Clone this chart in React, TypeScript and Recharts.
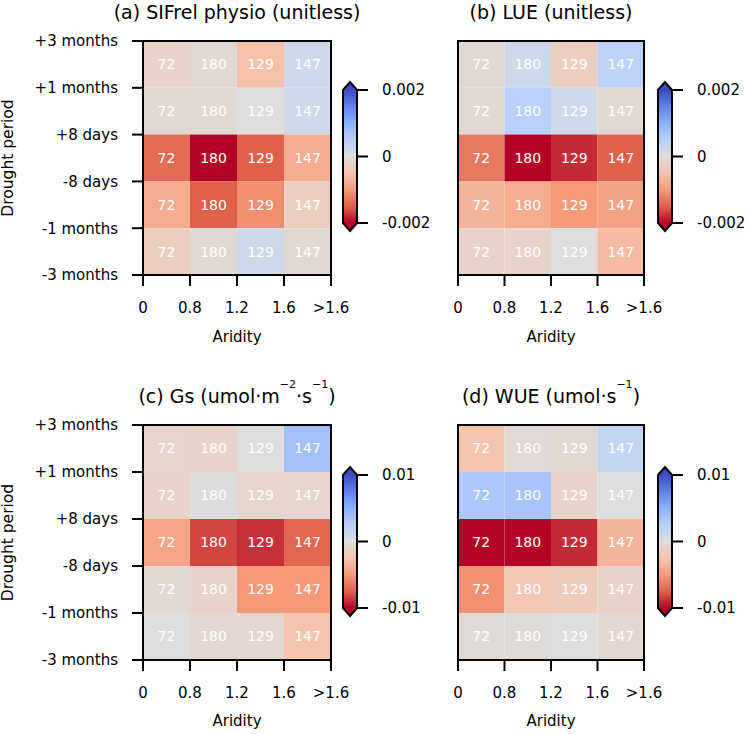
import React from "react";
import { ScatterChart, Scatter, XAxis, YAxis, ReferenceArea } from "recharts";

const FONT = "'DejaVu Sans', Arial, sans-serif";

const aridityTicks = ["0", "0.8", "1.2", "1.6", ">1.6"];
const periodTicks = ["-3 months", "-1 months", "-8 days", "+8 days", "+1 months", "+3 months"];
const gridCounts = [72, 180, 129, 147];

// rows top to bottom: +3..+1 months, +1 months..+8 days, +8..-8 days, -8 days..-1 months, -1..-3 months
const sifrelPhysio = [
  [-0.0002, -0.0001, -0.00055, 0.0002],
  [-0.0001, -0.0001, 0.0, 0.0002],
  [-0.0014, -0.0023, -0.0015, -0.0008],
  [-0.0008, -0.0015, -0.0011, -0.0003],
  [-0.0003, -0.0001, 0.0002, -0.0001],
];
const lue = [
  [-0.0001, 0.0002, -0.0003, 0.00045],
  [-0.0001, 0.0005, 0.0002, -0.0001],
  [-0.0013, -0.0022, -0.0018, -0.0015],
  [-0.0007, -0.0008, -0.001, -0.0009],
  [-0.0002, -0.0002, 0.0, -0.0006],
];
const gs = [
  [-0.0008, -0.001, 0.0, 0.0038],
  [-0.001, 0.0001, -0.0008, -0.0008],
  [-0.0044, -0.0082, -0.0088, -0.0072],
  [-0.0005, -0.001, -0.005, -0.005],
  [0.0, -0.0006, -0.0006, -0.0025],
];
const wue = [
  [-0.0025, -0.0004, -0.0005, 0.0018],
  [0.0032, 0.0034, -0.001, 0.0],
  [-0.011, -0.011, -0.009, -0.0035],
  [-0.0054, -0.0022, -0.0018, -0.001],
  [-0.0003, -0.0003, 0.0, -0.0007],
];

const cbTicksSmall = ["-0.002", "0", "0.002"];
const cbTicksLarge = ["-0.01", "0", "0.01"];

// matplotlib coolwarm, blue -> grey -> red
const coolwarm = [
  [59, 76, 192],
  [98, 130, 234],
  [141, 176, 254],
  [184, 208, 249],
  [221, 221, 221],
  [245, 196, 173],
  [244, 154, 123],
  [222, 96, 77],
  [180, 4, 38],
];

function cw(s: number) {
  const t = Math.min(1, Math.max(0, s)) * (coolwarm.length - 1);
  const i = Math.min(coolwarm.length - 2, Math.floor(t));
  const f = t - i;
  const a = coolwarm[i];
  const b = coolwarm[i + 1];
  const c = a.map((v, k) => Math.round(v + (b[k] - v) * f));
  return `rgb(${c[0]},${c[1]},${c[2]})`;
}

// reversed map: negative values red, positive blue
const valueColor = (v: number, vmax: number) => cw(0.5 - v / (2 * vmax));

const tickStyle = { fill: "#000", fontSize: 15, fontFamily: FONT };
const lineStyle = { stroke: "#000", strokeWidth: 2 };

function Heatmap({ left, top, height, axisH, marginTop, rightMargin, yWidth, values, vmax, title, showPeriods }: any) {
  const cells = values.flatMap((row: number[], r: number) =>
    row.map((v, c) => ({ x: c + 0.5, y: 4.5 - r, v, n: gridCounts[c], c, r }))
  );
  return (
    <div style={{ position: "absolute", left, top }}>
      <ScatterChart width={375} height={height} margin={{ top: marginTop, right: rightMargin, bottom: 0, left: 0 }}>
        <XAxis
          type="number"
          dataKey="x"
          domain={[0, 4]}
          ticks={[0, 1, 2, 3, 4]}
          interval={0}
          tickFormatter={(t: number) => aridityTicks[t]}
          height={axisH}
          tickSize={11}
          tickMargin={16}
          tick={tickStyle}
          tickLine={lineStyle}
          axisLine={lineStyle}
          label={{ value: "Aridity", position: "insideBottom", offset: 8, fill: "#000", fontSize: 15, fontFamily: FONT }}
        />
        <YAxis
          type="number"
          dataKey="y"
          domain={[0, 5]}
          ticks={[0, 1, 2, 3, 4, 5]}
          interval={0}
          tickFormatter={(t: number) => periodTicks[t]}
          width={yWidth}
          tickSize={11}
          tickMargin={14}
          tick={showPeriods ? tickStyle : false}
          tickLine={showPeriods ? lineStyle : false}
          axisLine={lineStyle}
          label={
            showPeriods
              ? (p: any) => {
                  const vb = p.viewBox;
                  const cx = vb.x + 13;
                  const cy = vb.y + vb.height / 2;
                  return (
                    <text x={cx} y={cy} transform={`rotate(-90, ${cx}, ${cy})`} textAnchor="middle" fill="#000" fontSize={15.5} fontFamily={FONT}>
                      Drought period
                    </text>
                  );
                }
              : undefined
          }
        />
        {cells.map((cell: any) => (
          <ReferenceArea
            key={`${cell.r}-${cell.c}`}
            x1={cell.c}
            x2={cell.c + 1}
            y1={4 - cell.r}
            y2={5 - cell.r}
            fill={valueColor(cell.v, vmax)}
            fillOpacity={1}
            stroke="none"
            label={{ value: String(cell.n), position: "center", fill: "#fff", fontSize: 14, fontFamily: FONT }}
          />
        ))}
        <ReferenceArea
          x1={0}
          x2={4}
          y1={0}
          y2={5}
          fill="none"
          stroke="#000"
          strokeWidth={2}
          label={(p: any) => {
            const vb = p.viewBox;
            return (
              <text x={vb.x + vb.width / 2} y={vb.y - 22} textAnchor="middle" fill="#000" fontSize={19} fontFamily={FONT}>
                {title}
              </text>
            );
          }}
        />
        <Scatter data={cells} dataKey="y" shape={() => <g />} isAnimationActive={false} />
      </ScatterChart>
    </div>
  );
}

function ColorBar({ left, top, vmax, labels, id }: any) {
  const shape = (p: any) => {
    const { x, y, width, height } = p;
    const tip = 8;
    const mid = x + width / 2;
    const outline = `M${x},${y} L${mid},${y - tip} L${x + width},${y} L${x + width},${y + height} L${mid},${y + height + tip} L${x},${y + height} Z`;
    return (
      <g>
        <defs>
          <linearGradient id={id} x1="0" y1="0" x2="0" y2="1">
            {coolwarm.map((_, k) => (
              <stop key={k} offset={k / (coolwarm.length - 1)} stopColor={cw(k / (coolwarm.length - 1))} />
            ))}
          </linearGradient>
        </defs>
        <path d={`M${x},${y} L${mid},${y - tip} L${x + width},${y} Z`} fill={cw(0)} />
        <path d={`M${x},${y + height} L${mid},${y + height + tip} L${x + width},${y + height} Z`} fill={cw(1)} />
        <rect x={x} y={y} width={width} height={height} fill={`url(#${id})`} />
        <path d={outline} fill="none" stroke="#000" strokeWidth={2} strokeLinejoin="miter" />
      </g>
    );
  };
  return (
    <div style={{ position: "absolute", left, top }}>
      <ScatterChart width={110} height={165} margin={{ top: 15, right: 0, bottom: 17, left: 13 }}>
        <XAxis type="number" dataKey="x" domain={[0, 1]} hide />
        <YAxis
          type="number"
          dataKey="y"
          orientation="right"
          domain={[-vmax, vmax]}
          ticks={[-vmax, 0, vmax]}
          interval={0}
          tickFormatter={(t: number) => labels[t < 0 ? 0 : t > 0 ? 2 : 1]}
          width={83}
          tickSize={11}
          tickMargin={14}
          tick={tickStyle}
          tickLine={lineStyle}
          axisLine={false}
        />
        <ReferenceArea x1={0} x2={1} y1={-vmax} y2={vmax} shape={shape} />
        <Scatter data={[{ x: 0.5, y: 0 }]} dataKey="y" shape={() => <g />} isAnimationActive={false} />
      </ScatterChart>
    </div>
  );
}

export default function App() {
  const titleC = (
    <>
      (c) Gs (umol·m
      <tspan dy={-15} fontSize={11}>−2</tspan>
      <tspan dy={15}>·s</tspan>
      <tspan dy={-15} fontSize={11}>−1</tspan>
      <tspan dy={15}>)</tspan>
    </>
  );
  const titleD = (
    <>
      (d) WUE (umol·s
      <tspan dy={-15} fontSize={11}>−1</tspan>
      <tspan dy={15}>)</tspan>
    </>
  );
  return (
    <div style={{ position: "absolute", left: 0, top: 0, width: 750, height: 734, background: "#fff" }}>
      <Heatmap left={0} top={0} height={350} axisH={75} marginTop={41} rightMargin={44} yWidth={143}
        values={sifrelPhysio} vmax={0.002} title="(a) SIFrel physio (unitless)" showPeriods />
      <Heatmap left={375} top={0} height={350} axisH={75} marginTop={41} rightMargin={106} yWidth={83}
        values={lue} vmax={0.002} title="(b) LUE (unitless)" showPeriods={false} />
      <Heatmap left={0} top={367} height={367} axisH={74} marginTop={58} rightMargin={44} yWidth={143}
        values={gs} vmax={0.01} title={titleC} showPeriods />
      <Heatmap left={375} top={367} height={367} axisH={74} marginTop={58} rightMargin={106} yWidth={83}
        values={wue} vmax={0.01} title={titleD} showPeriods={false} />
      <ColorBar left={330} top={75} vmax={0.002} labels={cbTicksSmall} id="cbA" />
      <ColorBar left={645} top={75} vmax={0.002} labels={cbTicksSmall} id="cbB" />
      <ColorBar left={330} top={460} vmax={0.01} labels={cbTicksLarge} id="cbC" />
      <ColorBar left={645} top={460} vmax={0.01} labels={cbTicksLarge} id="cbD" />
    </div>
  );
}
